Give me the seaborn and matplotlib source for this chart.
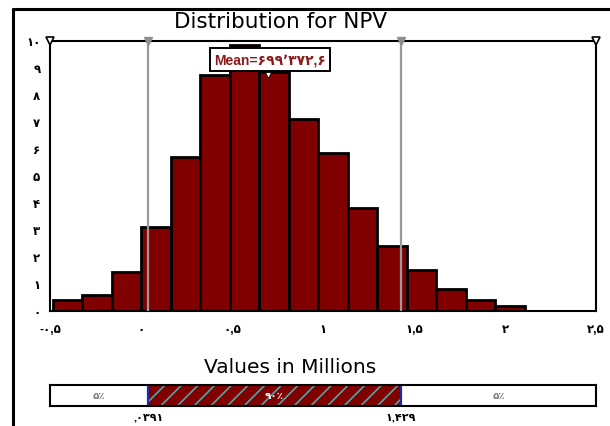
import matplotlib
matplotlib.use("Agg")
import matplotlib.pyplot as plt
import seaborn as sns
import numpy as np
import pandas as pd

# ---- data -------------------------------------------------------------
bin_start = -0.484          # left edge of the first histogram bin (millions)
bin_width = 0.162           # histogram bin width (millions)
bin_heights = [0.40, 0.58, 1.44, 3.11, 5.70, 8.74, 9.85, 8.83,
               7.10, 5.84, 3.79, 2.39, 1.52, 0.80, 0.40, 0.19]
x_ticks = [-0.5, 0.0, 0.5, 1.0, 1.5, 2.0, 2.5]
y_ticks = [0, 1, 2, 3, 4, 5, 6, 7, 8, 9, 10]
pct_bounds = [0.0391, 1.429]          # 5th and 95th percentiles
pct_shares = [5, 90, 5]
mean_value = 0.6993726
title_text = "Distribution for NPV"
x_label_text = "Values in Millions"

# ---- styling ------------------------------------------------------------
sns.set_style("white")
plt.rcParams["font.family"] = ["Liberation Sans", "DejaVu Sans"]
plt.rcParams["hatch.linewidth"] = 1.2
plt.rcParams["text.color"] = "black"

FA = str.maketrans("0123456789", "۰۱۲۳۴۵۶۷۸۹")
BAR_RED = "#800000"


def fa_num(v, fmt="{:g}", drop_zero=False):
    s = fmt.format(v)
    if drop_zero and s.startswith("0."):
        s = s[1:]
    return s.replace(".", ",").translate(FA)


fig = plt.figure(figsize=(6.10, 4.27), dpi=100)
W, H = 610.0, 427.0


def fx(px):
    return px / W


def fy(py):
    return 1 - py / H


# outer frame (left and top edges visible)
fig.add_artist(plt.Line2D([fx(13), fx(13)], [fy(10), fy(427)], color="black",
                          lw=2.2, transform=fig.transFigure))
fig.add_artist(plt.Line2D([fx(13), fx(610)], [fy(10), fy(10)], color="black",
                          lw=2.2, transform=fig.transFigure))

# ---- main histogram -----------------------------------------------------
ax = fig.add_axes([fx(50), fy(311.7), fx(596) - fx(50), fy(41.7) - fy(311.7)])
n_bins = len(bin_heights)
bin_end = bin_start + bin_width * n_bins
centers = bin_start + bin_width * (np.arange(n_bins) + 0.5)
df = pd.DataFrame({"npv": centers, "weight": bin_heights})
sns.histplot(data=df, x="npv", weights="weight", bins=n_bins,
             binrange=(bin_start, bin_end), stat="count",
             color=BAR_RED, edgecolor="black", linewidth=2.0, alpha=1.0, ax=ax)

ax.set_xlim(-0.5, 2.5)
ax.set_ylim(0, 10)
ax.set_xlabel("")
ax.set_ylabel("")
for sp in ax.spines.values():
    sp.set_color("black")
    sp.set_linewidth(1.5)
    sp.set_visible(True)

ax.set_xticks(x_ticks)
ax.set_xticklabels([fa_num(v) for v in x_ticks])
ax.set_yticks(y_ticks)
ax.set_yticklabels([fa_num(v) for v in y_ticks])
ax.tick_params(axis="x", direction="inout", length=8, width=1.2, pad=5,
               labelsize=8.5, colors="black")
ax.tick_params(axis="y", length=0, pad=7, labelsize=8.5, colors="black")
for lbl in ax.get_xticklabels() + ax.get_yticklabels():
    lbl.set_fontweight("bold")

# percentile delimiters
for b in pct_bounds:
    ax.axvline(b, color="#9a9a9a", lw=1.6, zorder=3)
ax.plot(pct_bounds, [10, 10], ls="none", marker="v", ms=6, color="#8f8f8f",
        mec="#8f8f8f", clip_on=False, zorder=5)
ax.plot([-0.5, 2.5], [10, 10], ls="none", marker="v", ms=6, color="white",
        mec="black", mew=1.2, clip_on=False, zorder=5)

# mean marker and label
mean_txt = "Mean=" + "{:,.1f}".format(mean_value * 1e6).replace(",", "٬") \
    .replace(".", ",").translate(FA)
ax.text(mean_value + 0.01, 9.3, mean_txt, ha="center", va="center",
        fontsize=10, fontweight="bold", color="#8b1a1a", zorder=6,
        bbox=dict(boxstyle="square,pad=0.3", fc="white", ec="black", lw=1.4))
ax.plot([mean_value], [8.72], marker="v", ms=4.5, color="white", mec="black",
        mew=0.6, ls="none", zorder=7)

fig.text(fx(281), fy(22), title_text, ha="center", va="center", fontsize=15.5,
         family="DejaVu Sans", color="black")
fig.text(fx(290), fy(368), x_label_text, ha="center", va="center",
         fontsize=14.5, family="DejaVu Sans", color="black")

# ---- percentile band ----------------------------------------------------
ax2 = fig.add_axes([fx(50), fy(406.7), fx(596) - fx(50), fy(386) - fy(406.7)])
ax2.set_xlim(-0.5, 2.5)
ax2.set_ylim(0, 1)
seg_left = [-0.5, pct_bounds[0], pct_bounds[1]]
seg_right = [pct_bounds[0], pct_bounds[1], 2.5]
for i, (l, r) in enumerate(zip(seg_left, seg_right)):
    if i == 1:
        ax2.barh(0.5, r - l, left=l, height=1, color=BAR_RED,
                 edgecolor="#4fa6ab", hatch="//", linewidth=0)
        col = "white"
    else:
        ax2.barh(0.5, r - l, left=l, height=1, color="white", linewidth=0)
        col = "#808080"
    ax2.text((l + r) / 2, 0.5, f"{pct_shares[i]}٪".translate(FA), ha="center",
             va="center", fontsize=7.5, color=col, fontweight="bold")
for b in pct_bounds:
    ax2.axvline(b, color="#1f2d9a", lw=1.6)
    ax2.text(b, -0.5, fa_num(b, "{:.4g}", drop_zero=True), ha="center",
             va="center", fontsize=8, fontweight="bold", color="black")
ax2.set_xticks([])
ax2.set_yticks([])
for sp in ax2.spines.values():
    sp.set_color("black")
    sp.set_linewidth(1.5)

fig.savefig("out.png", dpi=100)
